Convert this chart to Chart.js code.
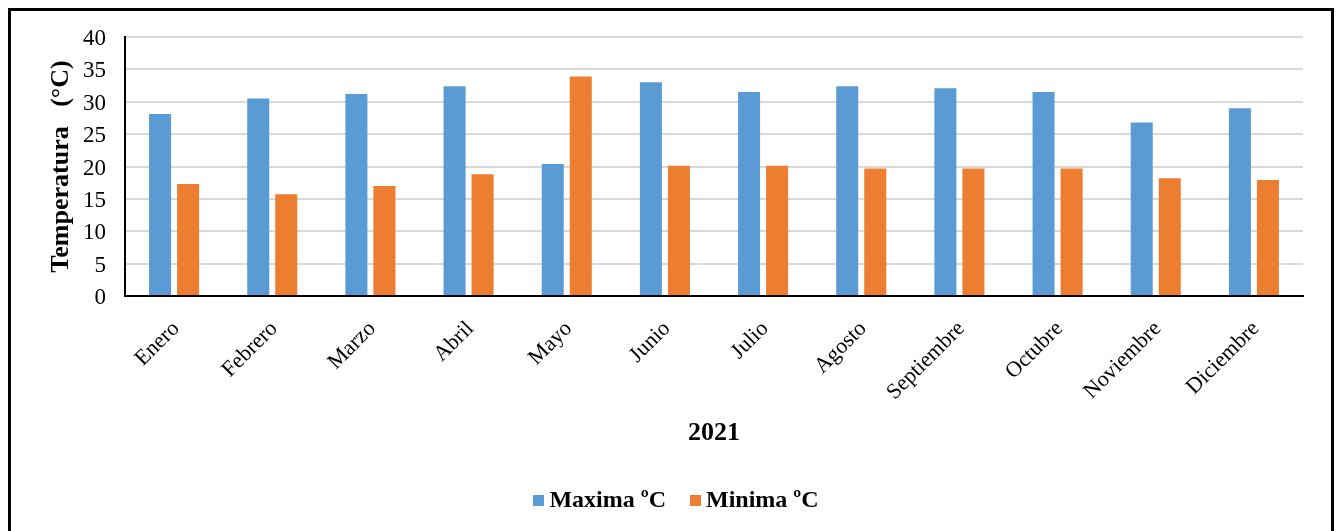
<!DOCTYPE html>
<html lang="es">
<head>
<meta charset="utf-8">
<title>Temperatura 2021</title>
<script src="https://cdn.jsdelivr.net/npm/chart.js@4"></script>
<style>
  html, body { margin: 0; padding: 0; background: #ffffff; overflow: hidden; }
  #wrap { position: relative; width: 1336px; height: 531px; }
  #frame {
    position: absolute; left: 8px; top: 8px; width: 1326px; height: 600px;
    box-sizing: border-box; border: 3px solid #000000; pointer-events: none;
  }
  canvas { position: absolute; left: 0; top: 0; }
</style>
</head>
<body>
<div id="wrap">
  <canvas id="chart" width="1336" height="531"></canvas>
  <div id="frame"></div>
</div>
<script>
// Monthly temperatures for 2021 (°C)
const months = ['Enero', 'Febrero', 'Marzo', 'Abril', 'Mayo', 'Junio',
                'Julio', 'Agosto', 'Septiembre', 'Octubre', 'Noviembre', 'Diciembre'];
const maxTemps = [28.1, 30.5, 31.2, 32.4, 20.4, 33.0, 31.5, 32.4, 32.1, 31.5, 26.8, 29.0];
const minTemps = [17.3, 15.7, 17.0, 18.8, 33.9, 20.1, 20.1, 19.7, 19.7, 19.7, 18.2, 17.9];
const seriesNames = ['Maxima ºC', 'Minima ºC'];
const seriesColors = ['#5B9BD5', '#ED7D31'];
const yTitle = 'Temperatura   (°C)';
const xTitle = '2021';

const SERIF = "'Liberation Serif', 'Times New Roman', serif";

// Bottom legend: small square swatch followed by the series name, centred as a row
const bottomLegend = {
  id: 'bottomLegend',
  afterDraw(chart) {
    const ctx = chart.ctx;
    const box = 11, gapText = 5, gapItem = 24;
    const centreX = 676, midY = 501;
    ctx.save();
    ctx.font = 'bold 24px ' + SERIF;
    ctx.textBaseline = 'middle';
    ctx.textAlign = 'left';
    const items = chart.data.datasets.map(ds => ({
      text: ds.label, color: ds.backgroundColor, w: ctx.measureText(ds.label).width
    }));
    let total = 0;
    items.forEach((it, i) => { total += box + gapText + it.w + (i ? gapItem : 0); });
    let x = centreX - total / 2;
    items.forEach((it, i) => {
      if (i) x += gapItem;
      ctx.fillStyle = it.color;
      ctx.fillRect(Math.round(x), midY - 6, box, box);
      x += box + gapText;
      ctx.fillStyle = '#000000';
      ctx.fillText(it.text, x, midY);
      x += it.w;
    });
    ctx.restore();
  }
};

new Chart(document.getElementById('chart'), {
  type: 'bar',
  data: {
    labels: months,
    datasets: [
      { label: seriesNames[0], data: maxTemps, backgroundColor: seriesColors[0],
        categoryPercentage: 0.571, barPercentage: 0.786 },
      { label: seriesNames[1], data: minTemps, backgroundColor: seriesColors[1],
        categoryPercentage: 0.571, barPercentage: 0.786 }
    ]
  },
  plugins: [bottomLegend],
  options: {
    responsive: false,
    animation: false,
    devicePixelRatio: 1,
    layout: { padding: { left: 10, right: 33, top: 37, bottom: 49 } },
    plugins: {
      tooltip: { enabled: false },
      legend: { display: false }
    },
    scales: {
      x: {
        grid: { display: false },
        border: { display: true, color: '#000000', width: 2 },
        ticks: {
          autoSkip: false, maxRotation: 45, minRotation: 45, padding: 12,
          labelOffset: 2, color: '#000000', font: { family: SERIF, size: 22 }
        },
        title: {
          display: true, text: xTitle, color: '#000000',
          font: { family: SERIF, size: 26, weight: 'bold' },
          padding: { top: 4, bottom: 33 }
        },
        afterFit: (scale) => { scale.height = 186; }
      },
      y: {
        min: 0, max: 40,
        grid: { color: '#D9D9D9', lineWidth: 2, drawTicks: false },
        border: { display: true, color: '#000000', width: 2 },
        ticks: {
          stepSize: 5, padding: 19, labelOffset: 2, color: '#000000',
          font: { family: SERIF, size: 23 }
        },
        title: {
          display: true, text: yTitle, color: '#000000',
          font: { family: SERIF, size: 26, weight: 'bold' },
          padding: { top: 36, bottom: 4 }
        },
        afterFit: (scale) => { scale.width = 115; }
      }
    }
  }
});
</script>
</body>
</html>
